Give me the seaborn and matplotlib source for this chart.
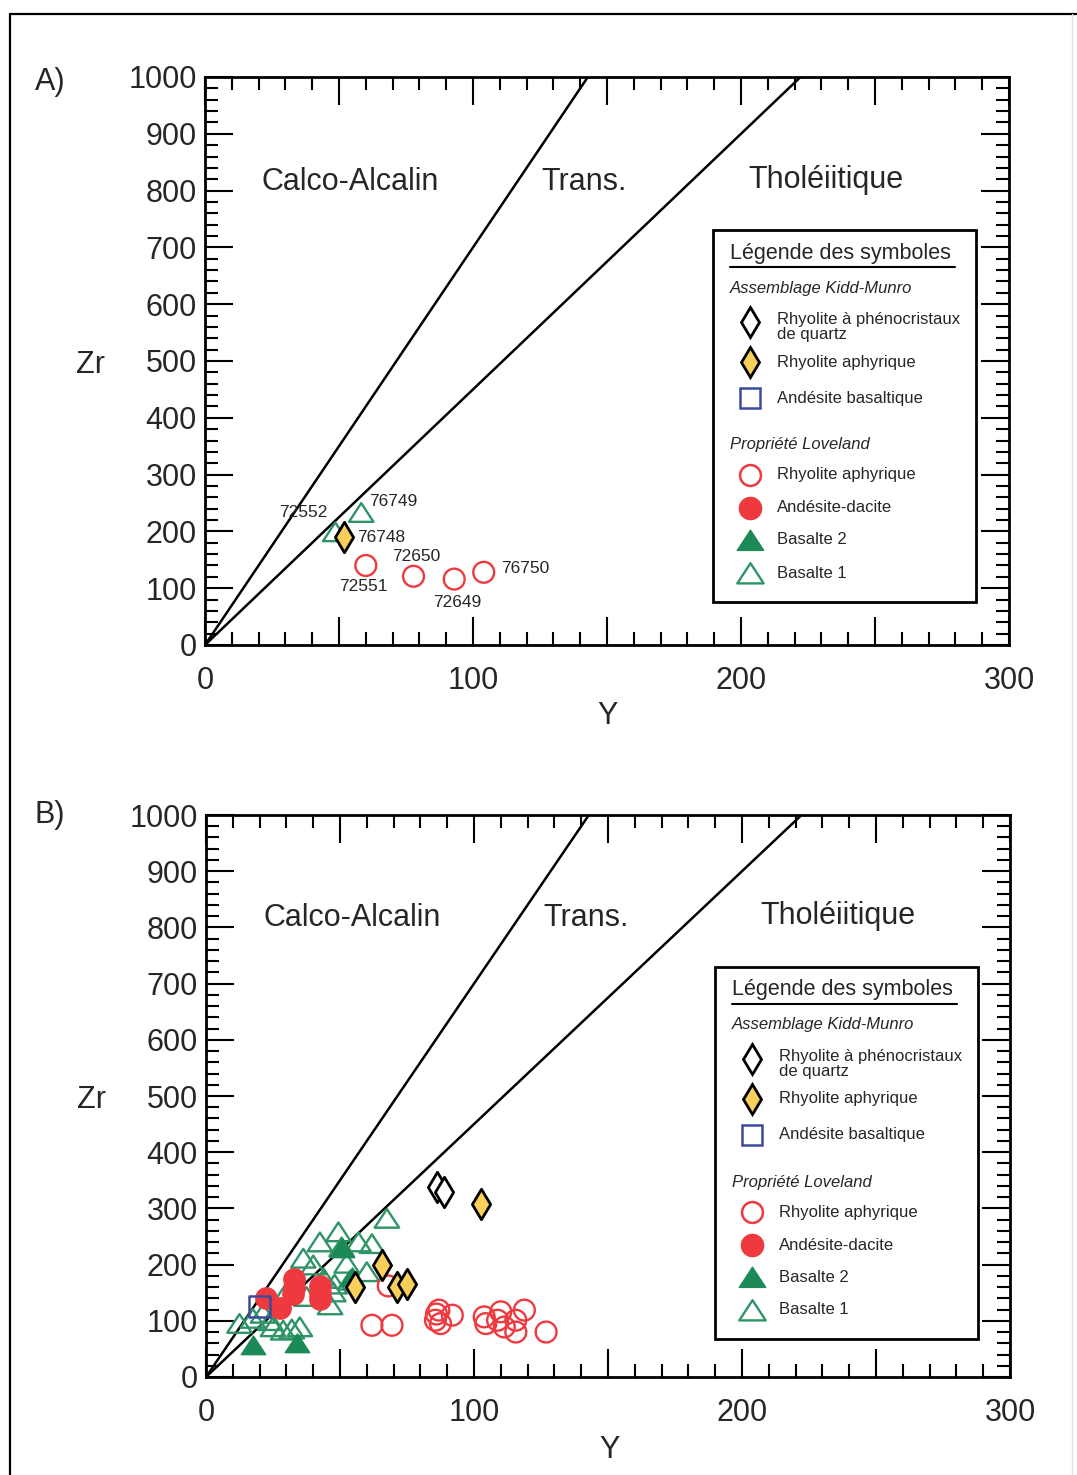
import numpy as np
import matplotlib
matplotlib.use("Agg")
import matplotlib.pyplot as plt
import seaborn as sns
from matplotlib.lines import Line2D
from matplotlib.patches import Rectangle
from matplotlib.path import Path
from matplotlib.ticker import MultipleLocator, FuncFormatter

# ---------------- data ----------------
# discrimination lines (Zr/Y ratios)
ZRY_CALC_ALK = 7.0
ZRY_THOL = 4.5

# Panel A
A_bas1_Y = [58.3, 48.6]
A_bas1_Zr = [233, 199]
A_bas1_lab = ["76749", "72552"]
A_rhyKM_Y = [51.9]
A_rhyKM_Zr = [190]
A_rhyKM_lab = ["76748"]
A_rhyLV_Y = [60.0, 77.8, 93.0, 104.0]
A_rhyLV_Zr = [140, 121, 116, 128]
A_rhyLV_lab = ["72551", "72650", "72649", "76750"]

# Panel B
B_qtzKM_Y = [86.3, 88.8]
B_qtzKM_Zr = [338, 329]
B_rhyKM_Y = [102.5, 65.6, 55.6, 71.3, 75.0]
B_rhyKM_Zr = [308, 199, 160, 160, 166]
B_andKM_Y = [20.0]
B_andKM_Zr = [125]
B_rhyLV_Y = [68.0, 61.9, 69.4, 86.9, 91.9, 85.6, 87.5, 86.0, 103.8, 104.4,
             110.0, 108.8, 111.3, 115.6, 115.6, 118.8, 126.9]
B_rhyLV_Zr = [162, 92, 92, 119, 110, 101, 95, 112, 107, 95,
              116, 101, 89, 101, 80, 119, 80]
B_andLV_Y = [22.5, 27.5, 33.0, 33.0, 32.5, 42.5, 42.5, 42.5]
B_andLV_Zr = [140, 122, 175, 158, 148, 162, 150, 138]
B_bas2_Y = [17.5, 33.8, 54.3, 50.6]
B_bas2_Zr = [57, 60, 178, 230]
B_bas1_Y = [67.5, 42.5, 49.4, 50.6, 56.9, 61.9, 36.3, 40.0, 52.5, 60.0,
            53.8, 47.5, 37.5, 46.3, 12.5, 17.5, 25.0, 28.8, 35.0, 21.3,
            44.0, 48.0, 30.0, 24.0, 32.0]
B_bas1_Zr = [282, 240, 258, 231, 240, 237, 211, 199, 202, 187,
             172, 151, 143, 128, 95, 104, 89, 83, 89, 113,
             175, 165, 150, 100, 85]

region_labels = ["Calco-Alcalin", "Trans.", "Tholéiitique"]

# ---------------- style ----------------
sns.set_style("ticks")
plt.rcParams['font.family'] = ['Liberation Sans', 'DejaVu Sans']

W, H = 1077, 1475
fig = plt.figure(figsize=(W / 100, H / 100), dpi=100)

RED = '#EE3A3F'
GREEN_E = '#2E9466'
GREEN_F = '#1C8A56'
YELLOW = '#F7CF5A'
BLUE = '#3B4A9C'

TRI = Path([(-1, -0.75), (1, -0.75), (0, 0.78), (-1, -0.75)],
           [Path.MOVETO, Path.LINETO, Path.LINETO, Path.CLOSEPOLY])

STY = {
    'qtzKM': dict(marker='d', s=240, facecolor='white', edgecolor='black', linewidth=2.0),
    'rhyKM': dict(marker='d', s=240, color=YELLOW, edgecolor='black', linewidth=2.0),
    'andKM': dict(marker='s', s=230, facecolor='none', edgecolor=BLUE, linewidth=1.8),
    'rhyLV': dict(marker='o', s=225, facecolor='none', edgecolor=RED, linewidth=1.7),
    'andLV': dict(marker='o', s=235, color=RED, edgecolor=RED, linewidth=1.0),
    'bas2': dict(marker=TRI, s=310, color=GREEN_F, edgecolor=GREEN_F, linewidth=1.0),
    'bas1': dict(marker=TRI, s=310, facecolor='none', edgecolor=GREEN_E, linewidth=1.7),
}


def setup_axes(ax):
    ax.set_xlim(0, 300)
    ax.set_ylim(0, 1000)
    ax.xaxis.set_major_locator(MultipleLocator(50))
    ax.xaxis.set_minor_locator(MultipleLocator(10))
    ax.xaxis.set_major_formatter(FuncFormatter(lambda v, p: f"{int(round(v))}" if round(v) % 100 == 0 else ""))
    ax.yaxis.set_major_locator(MultipleLocator(100))
    ax.yaxis.set_minor_locator(MultipleLocator(20))
    ax.tick_params(which='both', direction='in', top=True, right=True,
                   color='black', width=1.5)
    ax.tick_params(which='major', length=20)
    ax.tick_params(which='minor', length=9.5)
    ax.tick_params(axis='x', which='major', labelsize=22, pad=15)
    ax.tick_params(axis='y', which='major', labelsize=22, pad=6)
    for sp in ax.spines.values():
        sp.set_linewidth(2.0)
        sp.set_color('black')
    # discrimination lines
    for r in (ZRY_CALC_ALK, ZRY_THOL):
        ax.plot([0, 1000.0 / r], [0, 1000], color='black', lw=1.8, zorder=1)
    ax.set_xlabel("Y", fontsize=22, va='center', ha='center')
    ax.set_ylabel("Zr", fontsize=22, rotation=0, va='center', ha='center')


def scatter(ax, xs, ys, key):
    sns.scatterplot(x=xs, y=ys, ax=ax, legend=False, zorder=3, **STY[key])


# ---------------- Panel A ----------------
axA = fig.add_axes([205 / W, 1 - 645 / H, 804 / W, 568 / H])
setup_axes(axA)
axA.xaxis.set_label_coords(0.501, -0.125)
axA.yaxis.set_label_coords(-0.143, 0.493)
scatter(axA, A_bas1_Y, A_bas1_Zr, 'bas1')
scatter(axA, A_rhyLV_Y, A_rhyLV_Zr, 'rhyLV')
scatter(axA, A_rhyKM_Y, A_rhyKM_Zr, 'rhyKM')

lab_offsets = {"76749": (23, 8), "72552": (-23, 14), "76748": (27, 0),
               "72650": (2, 14), "72551": (-1.5, -15), "72649": (2, -17),
               "76750": (30, 3)}
for xs, ys, labs in ((A_bas1_Y, A_bas1_Zr, A_bas1_lab),
                     (A_rhyKM_Y, A_rhyKM_Zr, A_rhyKM_lab),
                     (A_rhyLV_Y, A_rhyLV_Zr, A_rhyLV_lab)):
    for x, y, lab in zip(xs, ys, labs):
        axA.annotate(lab, (x, y), xytext=lab_offsets[lab], textcoords='offset points',
                     ha='center', va='center', fontsize=12.5, zorder=4)

for lab, (x, y) in zip(region_labels, [(54.1, 815), (141.4, 815), (231.7, 819)]):
    axA.text(x, y, lab, fontsize=22, ha='center', va='center')

# ---------------- Panel B ----------------
axB = fig.add_axes([206 / W, 1 - 1377 / H, 804 / W, 562 / H])
setup_axes(axB)
axB.xaxis.set_label_coords(0.502, -0.13)
axB.yaxis.set_label_coords(-0.142, 0.493)
scatter(axB, B_bas1_Y, B_bas1_Zr, 'bas1')
scatter(axB, B_bas2_Y, B_bas2_Zr, 'bas2')
scatter(axB, B_andLV_Y, B_andLV_Zr, 'andLV')
scatter(axB, B_rhyLV_Y, B_rhyLV_Zr, 'rhyLV')
scatter(axB, B_andKM_Y, B_andKM_Zr, 'andKM')
scatter(axB, B_rhyKM_Y, B_rhyKM_Zr, 'rhyKM')
scatter(axB, B_qtzKM_Y, B_qtzKM_Zr, 'qtzKM')

for lab, (x, y) in zip(region_labels, [(54.5, 817), (141.8, 817), (235.8, 820)]):
    axB.text(x, y, lab, fontsize=22, ha='center', va='center')

# ---------------- legends ----------------
def fx(x):
    return x / W


def fy(y):
    return 1 - y / H


LEG_ITEMS = [
    ('head', "Assemblage Kidd-Munro", 58),
    ('qtzKM', "Rhyolite à phénocristaux\nde quartz", 92),
    ('rhyKM', "Rhyolite aphyrique", 132),
    ('andKM', "Andésite basaltique", 168),
    ('head', "Propriété Loveland", 215),
    ('rhyLV', "Rhyolite aphyrique", 245),
    ('andLV', "Andésite-dacite", 278),
    ('bas2', "Basalte 2", 310),
    ('bas1', "Basalte 1", 343),
]
LEG_MK = {
    'qtzKM': dict(marker='d', markersize=15.5, mfc='white', mec='black', mew=2.0),
    'rhyKM': dict(marker='d', markersize=15.5, mfc=YELLOW, mec='black', mew=2.0),
    'andKM': dict(marker='s', markersize=15, mfc='none', mec=BLUE, mew=1.8),
    'rhyLV': dict(marker='o', markersize=15, mfc='none', mec=RED, mew=1.8),
    'andLV': dict(marker='o', markersize=16, mfc=RED, mec=RED, mew=1.0),
    'bas2': dict(marker=TRI, markersize=19, mfc=GREEN_F, mec=GREEN_F, mew=1.0),
    'bas1': dict(marker=TRI, markersize=19, mfc='none', mec=GREEN_E, mew=1.7),
}


def draw_legend(x0, y0, w=263, h=372):
    fig.add_artist(Rectangle((fx(x0), fy(y0 + h)), w / W, h / H, fill=False,
                             lw=2.0, ec='black', transform=fig.transFigure))
    fig.text(fx(x0 + 17), fy(y0 + 23), "Légende des symboles", fontsize=15.5,
             ha='left', va='center')
    fig.add_artist(Line2D([fx(x0 + 17), fx(x0 + 242)], [fy(y0 + 37)] * 2,
                          color='black', lw=1.5, transform=fig.transFigure))
    for kind, text, dy in LEG_ITEMS:
        if kind == 'head':
            fig.text(fx(x0 + 17), fy(y0 + dy), text, fontsize=12, style='italic',
                     ha='left', va='center')
        else:
            fig.add_artist(Line2D([fx(x0 + 37)], [fy(y0 + dy)], linestyle='none',
                                  transform=fig.transFigure, **LEG_MK[kind]))
            tdy = dy + 5 if "\n" in text else dy
            fig.text(fx(x0 + 64), fy(y0 + tdy), text, fontsize=12, ha='left',
                     va='center', linespacing=1.05)


draw_legend(713, 230)
draw_legend(715, 967)

# panel letters
fig.text(fx(50), fy(82), "A)", fontsize=22, ha='center', va='center')
fig.text(fx(50), fy(815), "B)", fontsize=22, ha='center', va='center')

# outer frame
fig.add_artist(Line2D([fx(10), fx(10)], [fy(14), fy(1480)], color='black', lw=1.6,
                      transform=fig.transFigure))
fig.add_artist(Line2D([fx(10), fx(1080)], [fy(14), fy(14)], color='black', lw=1.6,
                      transform=fig.transFigure))
fig.add_artist(Line2D([fx(1072), fx(1072)], [fy(14), fy(1480)], color='#e4e4e4', lw=1.0,
                      transform=fig.transFigure))

fig.savefig("out.png", dpi=100)
